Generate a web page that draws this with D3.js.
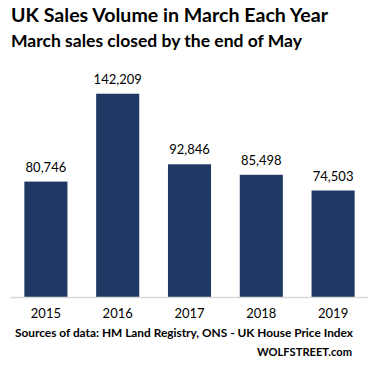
<!DOCTYPE html>
<html><head><meta charset="utf-8">
<script src="https://cdn.jsdelivr.net/npm/d3@7"></script>
<style>body{margin:0;background:#fff}svg{display:block}</style>
</head><body>
<script>
const years = ["2015","2016","2017","2018","2019"];
const sales = [80746,142209,92846,85498,74503];
const title = "UK Sales Volume  in March Each Year";
const subtitle = "March sales closed by the end of May";
const source = "Sources of data: HM Land Registry, ONS - UK House Price Index";
const brand = "WOLFSTREET.com";

const W = 368, H = 369;
const svg = d3.select("body").append("svg").attr("width", W).attr("height", H);
const font = "Lato, 'Open Sans', sans-serif";

const x = d3.scaleBand().domain(years).range([10, 369]).paddingInner(0.4).paddingOuter(0.2);
const y = d3.scaleLinear().domain([0, 160000]).range([297, 68.3]);

svg.append("text").attr("x", 11).attr("y", 22).attr("font-family", font).attr("font-weight", "bold")
  .attr("font-size", 18).attr("fill", "#000").attr("textLength", 317).attr("lengthAdjust", "spacingAndGlyphs").text(title);
svg.append("text").attr("x", 11).attr("y", 47).attr("font-family", font).attr("font-weight", "bold")
  .attr("font-size", 17).attr("fill", "#000").attr("textLength", 291).attr("lengthAdjust", "spacingAndGlyphs").text(subtitle);

svg.selectAll("rect.bar").data(years).join("rect").attr("class", "bar")
  .attr("x", d => x(d)).attr("width", x.bandwidth())
  .attr("y", (d, i) => y(sales[i])).attr("height", (d, i) => y(0) - y(sales[i]))
  .attr("fill", "#203864");

svg.selectAll("text.val").data(years).join("text").attr("class", "val")
  .attr("x", d => x(d) + x.bandwidth() / 2).attr("y", (d, i) => y(sales[i]) - 10)
  .attr("text-anchor", "middle").attr("font-family", font).attr("font-size", 13).attr("fill", "#000")
  .text((d, i) => d3.format(",")(sales[i]));

const axis = d3.axisBottom(x).tickSize(0).tickPadding(12);
const g = svg.append("g").attr("transform", `translate(0,${y(0)})`).call(axis);
g.select(".domain").attr("stroke", "#d9d9d9").attr("stroke-width", 1.5).attr("d", "M10,0.5H368");
g.selectAll("text").attr("font-family", font).attr("font-size", 13).attr("fill", "#000");

svg.append("text").attr("x", 15).attr("y", 337).attr("font-family", font).attr("font-weight", "bold")
  .attr("font-size", 11.5).attr("fill", "#000").attr("textLength", 338).attr("lengthAdjust", "spacingAndGlyphs").text(source);
svg.append("text").attr("x", 257).attr("y", 356).attr("font-family", font).attr("font-weight", "bold")
  .attr("font-size", 12).attr("fill", "#000").attr("textLength", 95).attr("lengthAdjust", "spacingAndGlyphs").text(brand);
</script>
</body></html>
